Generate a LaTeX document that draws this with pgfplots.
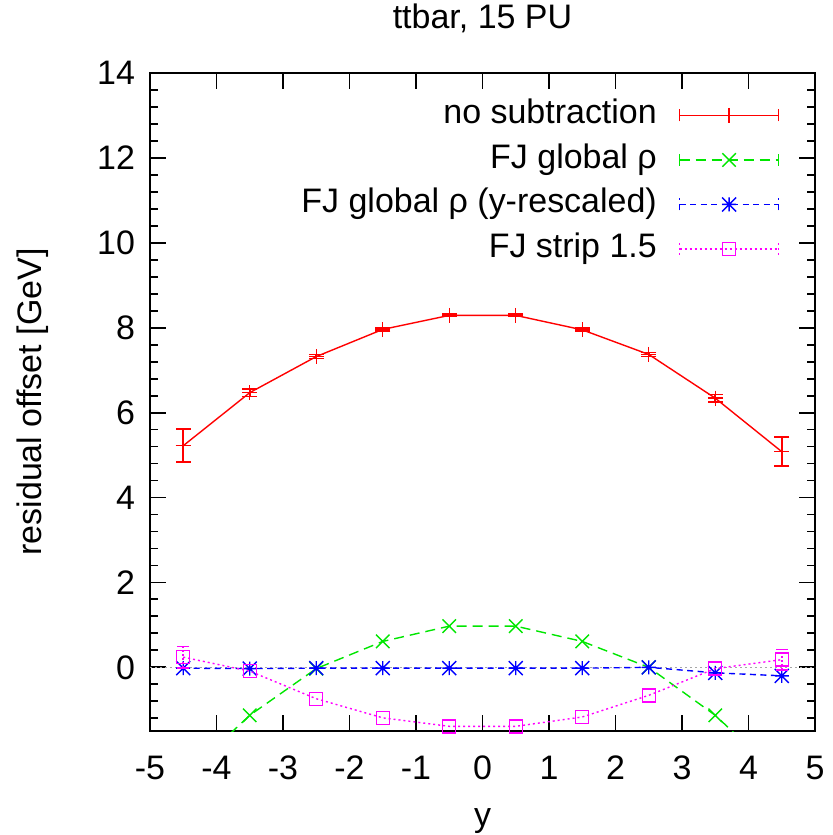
\documentclass[border=0pt]{standalone}
\usepackage{fontspec}
\setmainfont{Liberation Sans}
\usepackage{pgfplots}
\pgfplotsset{compat=1.18}
\definecolor{gpred}{RGB}{255,0,0}
\definecolor{gpgreen}{RGB}{0,230,0}
\definecolor{gpblue}{RGB}{0,0,255}
\definecolor{gpmag}{RGB}{255,0,255}
\pgfdeclareplotmark{gpstar}{%
  \pgfpathmoveto{\pgfqpoint{-\pgfplotmarksize}{0pt}}\pgfpathlineto{\pgfqpoint{\pgfplotmarksize}{0pt}}%
  \pgfpathmoveto{\pgfqpoint{0pt}{-\pgfplotmarksize}}\pgfpathlineto{\pgfqpoint{0pt}{\pgfplotmarksize}}%
  \pgfpathmoveto{\pgfqpoint{-\pgfplotmarksize}{-\pgfplotmarksize}}\pgfpathlineto{\pgfqpoint{\pgfplotmarksize}{\pgfplotmarksize}}%
  \pgfpathmoveto{\pgfqpoint{-\pgfplotmarksize}{\pgfplotmarksize}}\pgfpathlineto{\pgfqpoint{\pgfplotmarksize}{-\pgfplotmarksize}}%
  \pgfusepathqstroke}
\newcommand{\gpleg}[3]{% colour, dash pattern, mark options
  \draw[draw=#1, line width=1.5bp, #2] (0bp,0bp) -- (99bp,0bp);
  \draw[draw=#1, line width=1.5bp] (0bp,-6bp) -- (0bp,6bp) (99bp,-6bp) -- (99bp,6bp);
  \draw[draw=#1, line width=1.5bp] plot[#3] coordinates {(49.5bp,0bp)};}
\begin{document}
\begin{tikzpicture}[font=\fontsize{34.1}{40}\selectfont]
\path[use as bounding box] (-150bp,-104bp) rectangle (683bp,731bp);
\begin{axis}[
  at={(0,0)}, anchor=south west,
  scale only axis, width=665bp, height=658bp,
  xmin=-5, xmax=5, ymin=-1.5, ymax=14,
  xtick={-5,-4,...,5}, xticklabels={-5,-4,-3,-2,-1,0,1,2,3,4,5},
  ytick={0,2,...,14}, yticklabels={0,2,4,6,8,10,12,14},
  minor ytick={-1.2,-0.8,-0.4,0.4,0.8,1.2,1.6,2.4,2.8,3.2,3.6,4.4,4.8,5.2,5.6,6.4,6.8,7.2,7.6,8.4,8.8,9.2,9.6,10.4,10.8,11.2,11.6,12.4,12.8,13.2,13.6},
  tick align=inside, tick pos=both,
  major tick length=16bp, minor tick length=8bp,
  axis line style={line width=2bp, black},
  every tick/.style={line width=1.8bp, black},
  xticklabel style={anchor=base, yshift=-48bp},
  yticklabel style={xshift=-11bp},
  title={ttbar, 15 PU},
  title style={at={(axis description cs:0.5,1.0578)}, anchor=base},
  xlabel={y},
  xlabel style={at={(axis description cs:0.5,-0.1444)}, anchor=base},
  ylabel={residual offset [GeV]},
  ylabel style={at={(axis description cs:-0.176,0.5)}, anchor=center},
  clip mode=individual,
  legend plot pos=right,
  legend cell align=right,
  legend style={draw=none, fill=none, inner sep=0pt, row sep=7.5bp, column sep=20bp,
    at={(axis description cs:0.9474,0.9646)}, anchor=north east,
    nodes={inner sep=2bp, text height=25bp, text depth=8bp}},
  line width=1.4bp,
]
\draw[gray!70, line width=1.6bp, dash pattern=on 2bp off 3bp] (axis cs:-5,0) -- (axis cs:5,0);

% error bars of "no subtraction" (low / high ends)
\addplot[color=gpred, solid, line width=1.6bp, mark=-, mark size=7.5bp, mark options={solid}, unbounded coords=jump, forget plot]
  coordinates {
  (-4.5,4.83) (-4.5,5.61) (-4.5,nan)
  (-3.5,6.38) (-3.5,6.56) (-3.5,nan)
  (-2.5,7.27) (-2.5,7.37) (-2.5,nan)
  (-1.5,7.92) (-1.5,8.00) (-1.5,nan)
  (-0.5,8.26) (-0.5,8.32) (-0.5,nan)
  (0.5,8.26) (0.5,8.32) (0.5,nan)
  (1.5,7.91) (1.5,7.99) (1.5,nan)
  (2.5,7.32) (2.5,7.42) (2.5,nan)
  (3.5,6.25) (3.5,6.43) (3.5,nan)
  (4.5,4.74) (4.5,5.42)
  };
\addplot[color=gpred, solid, mark=+, mark size=7.5bp, mark options={solid},
  legend image code/.code={\gpleg{gpred}{solid}{mark=+, mark size=7.5bp}}]
  coordinates {
  (-4.5,5.22) (-3.5,6.47) (-2.5,7.32) (-1.5,7.96) (-0.5,8.29)
  (0.5,8.29) (1.5,7.95) (2.5,7.37) (3.5,6.34) (4.5,5.08)
  };
\addlegendentry{no subtraction}

\addplot[color=gpgreen, dash pattern=on 10bp off 6bp, mark=none, forget plot]
  coordinates {
  (-4.5,-2.6) (-3.5,-1.13) (-2.5,-0.03) (-1.5,0.61) (-0.5,0.97)
  (0.5,0.97) (1.5,0.61) (2.5,0.0) (3.5,-1.13) (4.5,-2.6)
  };
\addplot[color=gpgreen, only marks, mark=x, mark size=9.5bp, mark options={solid},
  legend image code/.code={\gpleg{gpgreen}{dash pattern=on 10bp off 6bp}{mark=x, mark size=9.5bp}}]
  coordinates {
  (-3.5,-1.13) (-2.5,-0.03) (-1.5,0.61) (-0.5,0.97)
  (0.5,0.97) (1.5,0.61) (2.5,0.0) (3.5,-1.13)
  };
\addlegendentry{FJ global ρ}

\addplot[color=gpblue, dash pattern=on 6bp off 4.5bp, mark=gpstar, mark size=7bp, mark options={solid},
  legend image code/.code={\gpleg{gpblue}{dash pattern=on 6bp off 4.5bp}{mark=gpstar, mark size=7bp}}]
  coordinates {
  (-4.5,-0.02) (-3.5,-0.03) (-2.5,-0.02) (-1.5,-0.02) (-0.5,-0.02)
  (0.5,-0.02) (1.5,-0.02) (2.5,0.0) (3.5,-0.13) (4.5,-0.2)
  };
\addlegendentry{FJ global ρ (y-rescaled)}

% error bars of "FJ strip 1.5"
\addplot[color=gpmag, dash pattern=on 2bp off 2bp, line width=1.6bp, mark=-, mark size=6bp, mark options={solid}, unbounded coords=jump, forget plot]
  coordinates {
  (-4.5,-0.01) (-4.5,0.49) (-4.5,nan)
  (4.5,-0.06) (4.5,0.42)
  };
\addplot[color=gpmag, dash pattern=on 2bp off 3bp, mark=square, mark size=6.5bp, mark options={solid},
  legend image code/.code={\gpleg{gpmag}{dash pattern=on 2bp off 3bp}{mark=square, mark size=6.5bp}}]
  coordinates {
  (-4.5,0.24) (-3.5,-0.09) (-2.5,-0.74) (-1.5,-1.19) (-0.5,-1.39)
  (0.5,-1.39) (1.5,-1.17) (2.5,-0.66) (3.5,-0.03) (4.5,0.18)
  };
\addlegendentry{FJ strip 1.5}
\end{axis}
\end{tikzpicture}
\end{document}
